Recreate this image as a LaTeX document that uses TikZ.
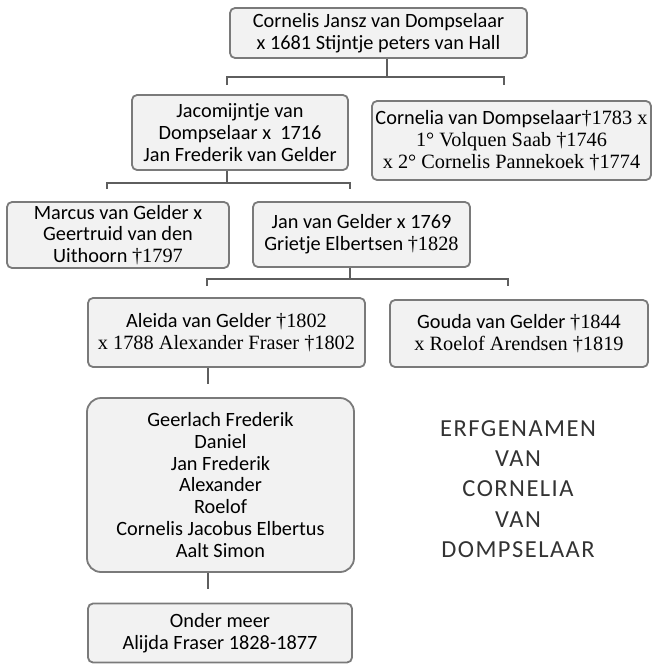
\documentclass[tikz,border=0pt]{standalone}
\usepackage{fontspec}
\setmainfont{Carlito}
\newfontfamily\tnr{Liberation Serif}
\newfontfamily\spatie[LetterSpace=6]{Carlito}
\usepackage{tikz}
\usetikzlibrary{positioning,calc}

\definecolor{boxfill}{HTML}{F2F2F2}
\definecolor{boxline}{HTML}{7A7A7A}
\definecolor{linkline}{HTML}{5E5E5E}

\begin{document}
\begin{tikzpicture}[x=1pt,y=-1pt,
        persoon/.style={draw=boxline,fill=boxfill,line width=1.8pt,rounded corners=5pt,
            align=center,inner sep=0pt,font=\fontsize{20.3}{21.8}\selectfont},
        link/.style={draw=linkline,line width=2.2pt}]
        \useasboundingbox (0,0) rectangle (653,664);

        % draw the boxes
        \node[persoon,minimum width=297pt,minimum height=50pt] (stam) at (378.5,33)
            {Cornelis Jansz van Dompselaar\\x 1681 Stijntje peters van Hall};
        \node[persoon,minimum width=216pt,minimum height=75pt] (jaco) at (240,132.5)
            {Jacomijntje van\\Dompselaar x~~1716\\Jan Frederik van Gelder};
        \node[persoon,minimum width=279pt,minimum height=79pt] (cornelia) at (511.5,140.5)
            {Cornelia van Dompselaar{\tnr†1783 x}\\{\tnr 1° Volquen Saab †1746}\\{\tnr x 2° Cornelis Pannekoek †1774}};
        \node[persoon,minimum width=222pt,minimum height=66pt] (marcus) at (118,235)
            {Marcus van Gelder x\\Geertruid van den\\Uithoorn {\tnr †1797}};
        \node[persoon,minimum width=217pt,minimum height=65pt] (jan) at (361.5,234.5)
            {Jan van Gelder x 1769\\Grietje Elbertsen {\tnr †1828}};
        \node[persoon,minimum width=277pt,minimum height=69pt] (aleida) at (226.5,332.5)
            {Aleida van Gelder {\tnr †1802}\\{\tnr x 1788 Alexander Fraser †1802}};
        \node[persoon,minimum width=258pt,minimum height=67pt] (gouda) at (519,333.5)
            {Gouda van Gelder {\tnr †1844}\\{\tnr x Roelof Arendsen †1819}};
        \node[persoon,rounded corners=14pt,minimum width=267pt,minimum height=174pt] (kinderen) at (220.5,485)
            {Geerlach Frederik\\Daniel\\Jan Frederik\\Alexander\\Roelof\\Cornelis Jacobus Elbertus\\Aalt Simon};
        \node[persoon,minimum width=264pt,minimum height=59pt] (onder) at (220,633)
            {Onder meer\\Alijda Fraser 1828-1877};

        \node[align=center,font=\spatie\fontsize{24.5}{30.2}\selectfont,text=black!80] (erfgenamen) at (518,489)
            {ERFGENAMEN\\VAN\\CORNELIA\\VAN\\DOMPSELAAR};

        % junctions of the connectors
        \coordinate (j1) at (387,77);
        \coordinate (j1l) at (227,77);
        \coordinate (j1r) at (504,77);
        \coordinate (j2) at (227,183);
        \coordinate (j2l) at (107,183);
        \coordinate (j2r) at (350,183);
        \coordinate (j3) at (350,279);
        \coordinate (j3l) at (207,279);
        \coordinate (j3r) at (508,279);
        \coordinate (j4) at (208,384);
        \coordinate (j5) at (208,589);

        % draw the connectors
        \draw[link] (stam.south -| j1) -- (j1);
        \draw[link] ($(j1l)+(0,8)$) -- (j1l) -- (j1r) -- ($(j1r)+(0,8)$);
        \draw[link] (jaco.south -| j2) -- (j2);
        \draw[link] ($(j2l)+(0,6)$) -- (j2l) -- (j2r) -- ($(j2r)+(0,6)$);
        \draw[link] (jan.south -| j3) -- (j3);
        \draw[link] ($(j3l)+(0,7)$) -- (j3l) -- (j3r) -- ($(j3r)+(0,7)$);
        \draw[link] (aleida.south -| j4) -- (j4);
        \draw[link] (kinderen.south -| j5) -- (j5);
\end{tikzpicture}
\end{document}
